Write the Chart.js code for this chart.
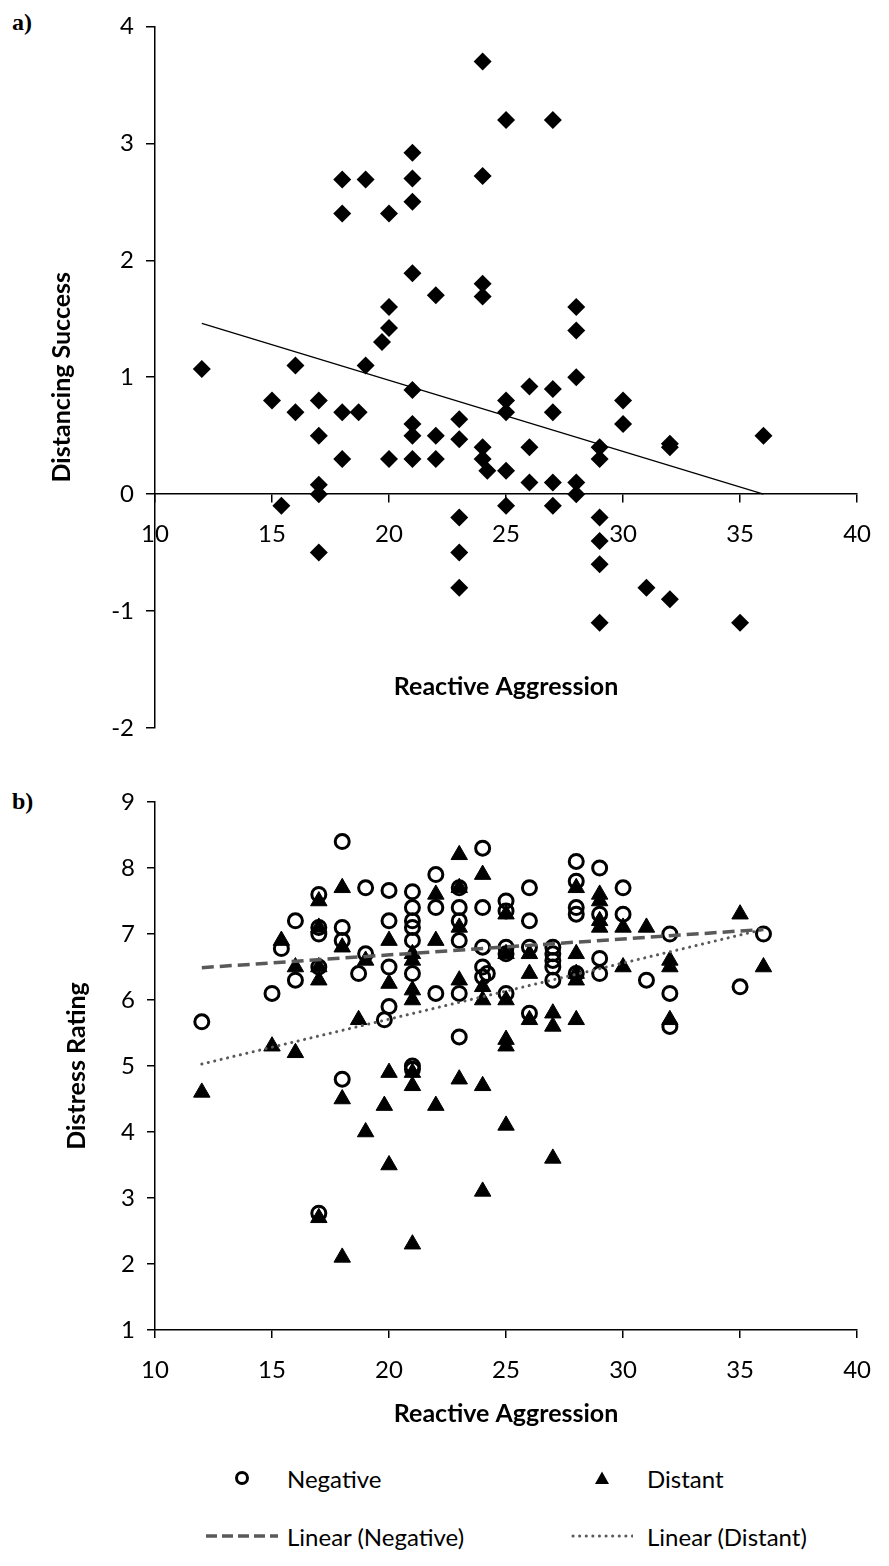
<!DOCTYPE html>
<html>
<head>
<meta charset="utf-8">
<title>Reactive aggression scatter plots</title>
<script src="https://cdn.jsdelivr.net/npm/chart.js@4.4.1/dist/chart.umd.min.js"></script>
<style>
  html, body { margin: 0; padding: 0; background: #fff; }
  body { width: 889px; height: 1566px; position: relative; overflow: hidden; font-family: Lato, sans-serif; }
  .panel { position: absolute; left: 0; width: 889px; }
  #panelA { top: 0; height: 760px; }
  #panelB { top: 760px; height: 680px; }
  .tag { position: absolute; left: 12px; font: bold 24px "Liberation Serif", serif; line-height: 28px; }
  .leg { position: absolute; height: 30px; display: flex; align-items: center; font-size: 24px; white-space: nowrap; }
  .leg svg { position: absolute; top: 0; }
</style>
</head>
<body>
<div class="tag" style="top:8px">a)</div>
<div class="tag" style="top:787px">b)</div>
<div class="panel" id="panelA"><canvas id="chartA"></canvas></div>
<div class="panel" id="panelB"><canvas id="chartB"></canvas></div>
<div id="legendB"></div>
<script>
// ---- panel a) : distancing success vs reactive aggression
var aggressionA = [24, 25, 27, 21, 18, 19, 21, 24, 21, 18, 20, 21, 22, 24, 24, 20, 28, 20, 28, 19.7,
  12, 16, 19, 28, 26, 21, 27, 15, 17, 25, 30, 16, 18, 18.7, 25, 27, 23, 21, 30, 17,
  21, 22, 36, 23, 32, 32, 24, 26, 29, 18, 20, 21, 22, 24, 29, 24.2, 25, 17, 26, 27,
  28, 17, 28, 15.4, 25, 27, 23, 29, 29, 17, 23, 29, 23, 31, 32, 29, 35];
var successA = [3.7, 3.2, 3.2, 2.92, 2.69, 2.69, 2.7, 2.72, 2.5, 2.4, 2.4, 1.89, 1.7, 1.8, 1.69, 1.6, 1.6, 1.42, 1.4, 1.3,
  1.07, 1.1, 1.1, 1.0, 0.92, 0.89, 0.9, 0.8, 0.8, 0.8, 0.8, 0.7, 0.7, 0.7, 0.7, 0.7, 0.64, 0.6, 0.6, 0.5,
  0.5, 0.5, 0.5, 0.47, 0.43, 0.4, 0.4, 0.4, 0.4, 0.3, 0.3, 0.3, 0.3, 0.3, 0.3, 0.2, 0.2, 0.08, 0.1, 0.1,
  0.1, 0.0, 0.0, -0.1, -0.1, -0.1, -0.2, -0.2, -0.4, -0.5, -0.5, -0.6, -0.8, -0.8, -0.9, -1.1, -1.1];
var trendAx = [12, 36];
var trendAy = [1.46, 0.0];

// ---- panel b) : distress rating vs reactive aggression
var negAggr = [12, 15, 15.4, 16, 16, 17, 17, 17, 17, 17, 18, 18, 18, 18, 18.7, 19, 19, 19.8, 20, 20,
  20, 20, 21, 21, 21, 21, 21, 21, 21, 21, 22, 22, 22, 23, 23, 23, 23, 23, 23, 24,
  24, 24, 24, 24.2, 24, 25, 25, 25, 25, 25, 26, 26, 26, 26, 27, 27, 27, 27, 27, 28,
  28, 28, 28, 28, 29, 29, 29, 29, 30, 30, 31, 32, 32, 32, 35, 36];
var negDistress = [5.67, 6.1, 6.78, 7.2, 6.3, 7.6, 7.1, 7.0, 6.5, 2.77, 8.4, 7.1, 6.9, 4.8, 6.4, 7.7, 6.7, 5.7, 7.66, 7.2,
  6.5, 5.9, 7.64, 7.4, 7.2, 7.1, 6.9, 6.4, 5.0, 4.95, 7.9, 7.4, 6.1, 7.7, 7.4, 7.2, 6.9, 6.1, 5.44, 8.3,
  7.4, 6.8, 6.5, 6.4, 6.35, 7.5, 7.35, 6.8, 6.7, 6.1, 7.7, 7.2, 6.8, 5.8, 6.8, 6.7, 6.6, 6.5, 6.3, 8.1,
  7.8, 7.4, 7.3, 6.4, 8.0, 7.3, 6.63, 6.4, 7.7, 7.3, 6.3, 7.0, 6.1, 5.6, 6.2, 7.0];
var distAggr = [12, 15, 15.4, 16, 16, 17, 17, 17, 17, 17, 18, 18, 18, 18, 18.7, 19, 19, 19.8, 20, 20,
  20, 20, 21, 21, 21, 21, 21, 21, 21, 22, 22, 22, 23, 23, 23, 23, 23, 24, 24, 24,
  24, 24, 25, 25, 25, 25, 25, 25, 26, 26, 26, 27, 27, 27, 28, 28, 28, 28, 28, 29,
  29, 29, 29, 30, 30, 31, 32, 32, 32, 35, 36];
var distDistress = [4.6, 5.3, 6.9, 6.5, 5.2, 7.5, 7.1, 6.5, 6.3, 2.7, 7.7, 6.8, 4.5, 2.1, 5.7, 6.6, 4.0, 4.4, 6.9, 6.25,
  4.9, 3.5, 6.7, 6.6, 6.15, 6.0, 4.9, 4.7, 2.3, 7.6, 6.9, 4.4, 8.2, 7.7, 7.1, 6.3, 4.8, 7.9, 6.2, 6.0,
  4.7, 3.1, 7.3, 6.7, 6.0, 5.4, 5.3, 4.1, 6.7, 6.4, 5.7, 5.8, 5.6, 3.6, 7.7, 6.7, 6.4, 6.3, 5.7, 7.6,
  7.5, 7.2, 7.1, 7.1, 6.5, 7.1, 6.6, 6.5, 5.7, 7.3, 6.5];
var trendBx = [12, 36];
var trendNegY = [6.49, 7.07];
var trendDistY = [5.03, 7.07];

function pairs(xs, ys) {
  return xs.map(function (x, i) { return { x: x, y: ys[i] }; });
}

Chart.defaults.font.family = 'Lato, sans-serif';
Chart.defaults.color = '#000';
Chart.defaults.animation = false;
Chart.defaults.events = [];
Chart.defaults.plugins.legend.display = false;
Chart.defaults.plugins.tooltip.enabled = false;

var tickFont = { size: 24 };
var titleFont = { size: 25, weight: 'bold' };
var gray = '#595959';

new Chart(document.getElementById('chartA'), {
  type: 'scatter',
  data: {
    datasets: [
      {
        label: 'Distancing',
        data: pairs(aggressionA, successA),
        pointStyle: 'rectRot',
        pointRadius: 9,
        backgroundColor: '#000',
        borderColor: '#000',
        borderWidth: 0
      },
      {
        label: 'Linear (Distancing)',
        data: pairs(trendAx, trendAy),
        showLine: true,
        pointRadius: 0,
        borderColor: '#000',
        borderWidth: 1.2
      }
    ]
  },
  options: {
    responsive: true,
    maintainAspectRatio: false,
    layout: { padding: { left: 47, right: 18, top: 24, bottom: 32 } },
    scales: {
      x: {
        type: 'linear',
        position: { y: 0 },
        min: 10,
        max: 40,
        ticks: { stepSize: 5, font: tickFont, padding: 18 },
        grid: { drawOnChartArea: false, tickLength: 8, color: '#000', lineWidth: 1.5 },
        border: { color: '#000', width: 1.5 },
        title: { display: true, text: 'Reactive Aggression', font: titleFont, color: '#000' },
        afterFit: function (s) { s.height = 212; }
      },
      y: {
        min: -2,
        max: 4,
        ticks: { stepSize: 1, font: tickFont, padding: 12 },
        grid: { drawOnChartArea: false, tickLength: 9, color: '#000', lineWidth: 1.5 },
        border: { color: '#000', width: 1.5 },
        title: { display: true, text: 'Distancing Success', font: titleFont, color: '#000', padding: 0 },
        afterFit: function (s) { s.width = 108; }
      }
    }
  }
});

var chartB = new Chart(document.getElementById('chartB'), {
  type: 'scatter',
  data: {
    datasets: [
      {
        label: 'Negative',
        glyph: 'circle',
        order: 2,
        data: pairs(negAggr, negDistress),
        pointStyle: 'circle',
        pointRadius: 7,
        backgroundColor: 'rgba(0,0,0,0)',
        borderColor: '#000',
        borderWidth: 3
      },
      {
        label: 'Distant',
        glyph: 'triangle',
        order: 1,
        data: pairs(distAggr, distDistress),
        pointStyle: 'triangle',
        pointRadius: 9.5,
        backgroundColor: '#000',
        borderColor: '#000',
        borderWidth: 1
      },
      {
        label: 'Linear (Negative)',
        glyph: 'dash',
        order: 0,
        data: pairs(trendBx, trendNegY),
        showLine: true,
        pointRadius: 0,
        borderColor: gray,
        borderWidth: 3.5,
        borderDash: [12, 6]
      },
      {
        label: 'Linear (Distant)',
        glyph: 'dot',
        order: 0,
        data: pairs(trendBx, trendDistY),
        showLine: true,
        pointRadius: 0,
        borderColor: gray,
        borderWidth: 3,
        borderCapStyle: 'round',
        borderDash: [0.1, 6.5]
      }
    ]
  },
  options: {
    responsive: true,
    maintainAspectRatio: false,
    layout: { padding: { left: 62, right: 18, top: 42, bottom: 11 } },
    scales: {
      x: {
        type: 'linear',
        position: 'bottom',
        min: 10,
        max: 40,
        ticks: { stepSize: 5, font: tickFont, padding: 18 },
        grid: { drawOnChartArea: false, tickLength: 8, color: '#000', lineWidth: 1.5 },
        border: { color: '#000', width: 1.5 },
        title: { display: true, text: 'Reactive Aggression', font: titleFont, color: '#000', padding: 0 },
        afterFit: function (s) { s.height = 99; }
      },
      y: {
        min: 1,
        max: 9,
        ticks: { stepSize: 1, font: tickFont, padding: 12 },
        grid: { drawOnChartArea: false, tickLength: 8, color: '#000', lineWidth: 1.5 },
        border: { color: '#000', width: 1.5 },
        title: { display: true, text: 'Distress Rating', font: titleFont, color: '#000', padding: 0 },
        afterFit: function (s) { s.width = 93; }
      }
    }
  }
});

// ---- HTML legend for panel b), built from the chart's datasets
var legendSlots = [
  { x: 242, y: 1478 }, { x: 602, y: 1478 },
  { x: 242, y: 1536 }, { x: 602, y: 1536 }
];
var glyphSvg = {
  circle: '<svg width="16" height="16" style="left:-8px;top:7px"><circle cx="8" cy="8" r="5.5" fill="none" stroke="#000" stroke-width="3"/></svg>',
  triangle: '<svg width="16" height="16" style="left:-8px;top:7px"><polygon points="8,1.5 15,14 1,14" fill="#000"/></svg>',
  dash: '<svg width="72" height="10" style="left:-36px;top:10px"><line x1="0" y1="5" x2="72" y2="5" stroke="' + gray + '" stroke-width="3.5" stroke-dasharray="11 5"/></svg>',
  dot: '<svg width="62" height="10" style="left:-31px;top:10px"><line x1="2" y1="5" x2="62" y2="5" stroke="' + gray + '" stroke-width="3" stroke-linecap="round" stroke-dasharray="0.1 6.5"/></svg>'
};
var legendBox = document.getElementById('legendB');
chartB.data.datasets.forEach(function (ds, i) {
  var slot = legendSlots[i];
  var item = document.createElement('div');
  item.className = 'leg';
  item.style.left = slot.x + 'px';
  item.style.top = (slot.y - 15) + 'px';
  item.innerHTML = glyphSvg[ds.glyph] + '<span style="margin-left:45px">' + ds.label + '</span>';
  legendBox.appendChild(item);
});
</script>
</body>
</html>
